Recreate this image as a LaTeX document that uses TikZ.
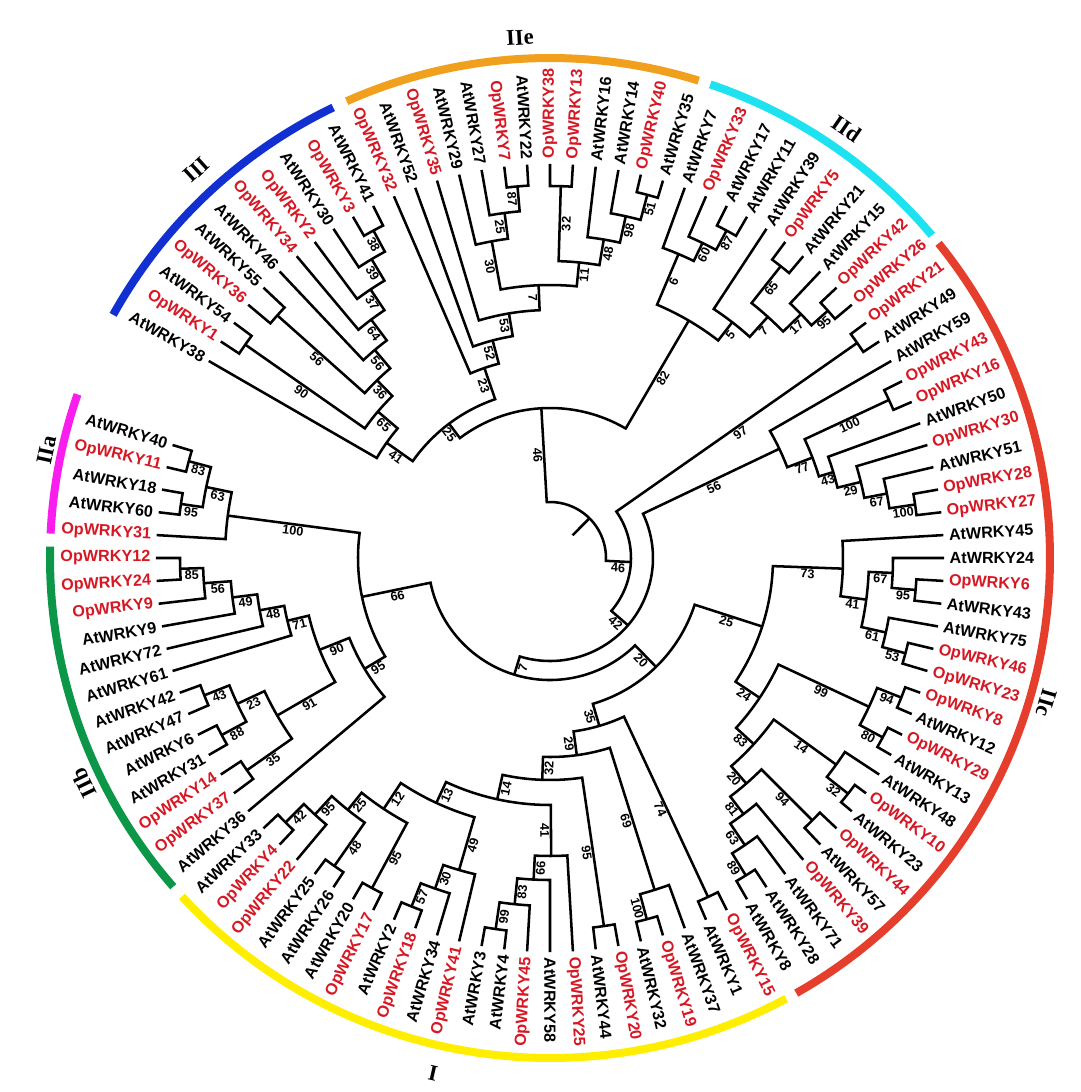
\documentclass[tikz,border=0pt]{standalone}
\usepackage{fontspec}
\setmainfont{Liberation Serif}
\setsansfont{Liberation Sans}
\usepackage{tikz}
\definecolor{opred}{RGB}{214,24,36}
\definecolor{cI}{RGB}{255,238,0}
\definecolor{cIIa}{RGB}{250,30,238}
\definecolor{cIIb}{RGB}{12,150,72}
\definecolor{cIIc}{RGB}{230,62,44}
\definecolor{cIId}{RGB}{30,226,240}
\definecolor{cIIe}{RGB}{240,160,28}
\definecolor{cIII}{RGB}{18,48,210}

\tikzset{
  branch/.style={line width=1.8pt},
  atlab/.style={font=\sffamily\bfseries\fontsize{11.5}{12}\selectfont, inner sep=1pt},
  oplab/.style={atlab, text=opred},
  boot/.style={font=\sffamily\bfseries\fontsize{9}{10}\selectfont, inner sep=1.2pt},
  ring/.style={line width=5.7pt},
  clab/.style={font=\rmfamily\bfseries\fontsize{16}{18}\selectfont}
}

\newcommand\setval[3]{\expandafter\xdef\csname wr#1:#2\endcsname{#3}}
\newcommand\getval[2]{\csname wr#1:#2\endcsname}

% leaf: name, slot, style
\newcommand\leaf[3]{%
  \pgfmathsetmacro\wla{-60+(#2)*10/3}%
  \setval{a}{#1}{\wla}\setval{r}{#1}{394}\setval{b}{#1}{}%
  \pgfmathparse{cos(\wla)>=0?1:0}%
  \ifdim\pgfmathresult pt>0.5pt
    \node[#3,anchor=west,rotate=\wla] (#1) at (\wla:398) {#1};%
  \else
    \pgfmathsetmacro\wlb{\wla+180}%
    \node[#3,anchor=east,rotate=\wlb] (#1) at (\wla:398) {#1};%
  \fi}

\newcommand\bootlab[2]{%
  \edef\wbt{\getval{b}{#1}}%
  \ifx\wbt\empty\else
    \edef\wba{\getval{a}{#1}}%
    \pgfmathsetmacro\wbr{(\getval{r}{#1}+#2)/2}%
    \pgfmathparse{cos(\wba)>=0?1:0}%
    \ifdim\pgfmathresult pt>0.5pt
      \node[boot,anchor=north,rotate=\wba] (bs#1) at (\wba:\wbr) {\wbt};%
    \else
      \pgfmathsetmacro\wbb{\wba+180}%
      \node[boot,anchor=north,rotate=\wbb] (bs#1) at (\wba:\wbr) {\wbt};%
    \fi
  \fi}

% clade: name, radius, child, child, bootstrap
\newcommand\clade[5]{%
  \edef\wca{\getval{a}{#3}}\edef\wcb{\getval{a}{#4}}%
  \edef\wra{\getval{r}{#3}}\edef\wrb{\getval{r}{#4}}%
  \draw[branch] (\wca:\wra) -- (\wca:#2) arc[start angle=\wca,end angle=\wcb,radius=#2] -- (\wcb:\wrb);%
  \bootlab{#3}{#2}\bootlab{#4}{#2}%
  \pgfmathsetmacro\wcm{(\wca+\wcb)/2}%
  \setval{a}{#1}{\wcm}\setval{r}{#1}{#2}\setval{b}{#1}{#5}%
  \coordinate (#1) at (\wcm:#2);}

\begin{document}
\begin{tikzpicture}[x=0.025cm,y=0.025cm]
\useasboundingbox (-550,-534) rectangle (530,558);

% IIc
\leaf{AtWRKY8}{0}{atlab}   \leaf{AtWRKY28}{1}{atlab}  \leaf{AtWRKY71}{2}{atlab}
\leaf{OpWRKY39}{3}{oplab}  \leaf{AtWRKY57}{4}{atlab}  \leaf{OpWRKY44}{5}{oplab}
\leaf{AtWRKY23}{6}{atlab}  \leaf{OpWRKY10}{7}{oplab}  \leaf{AtWRKY48}{8}{atlab}
\leaf{AtWRKY13}{9}{atlab}  \leaf{OpWRKY29}{10}{oplab} \leaf{AtWRKY12}{11}{atlab}
\leaf{OpWRKY8}{12}{oplab}  \leaf{OpWRKY23}{13}{oplab} \leaf{OpWRKY46}{14}{oplab}
\leaf{AtWRKY75}{15}{atlab} \leaf{AtWRKY43}{16}{atlab} \leaf{OpWRKY6}{17}{oplab}
\leaf{AtWRKY24}{18}{atlab} \leaf{AtWRKY45}{19}{atlab} \leaf{OpWRKY27}{20}{oplab}
\leaf{OpWRKY28}{21}{oplab} \leaf{AtWRKY51}{22}{atlab} \leaf{OpWRKY30}{23}{oplab}
\leaf{AtWRKY50}{24}{atlab} \leaf{OpWRKY16}{25}{oplab} \leaf{OpWRKY43}{26}{oplab}
\leaf{AtWRKY59}{27}{atlab} \leaf{AtWRKY49}{28}{atlab} \leaf{OpWRKY21}{29}{oplab}
% IId
\leaf{OpWRKY26}{30}{oplab} \leaf{OpWRKY42}{31}{oplab} \leaf{AtWRKY15}{32}{atlab}
\leaf{AtWRKY21}{33}{atlab} \leaf{OpWRKY5}{34}{oplab}  \leaf{AtWRKY39}{35}{atlab}
\leaf{AtWRKY11}{36}{atlab} \leaf{AtWRKY17}{37}{atlab} \leaf{OpWRKY33}{38}{oplab}
\leaf{AtWRKY7}{39}{atlab}
% IIe
\leaf{AtWRKY35}{40}{atlab} \leaf{OpWRKY40}{41}{oplab} \leaf{AtWRKY14}{42}{atlab}
\leaf{AtWRKY16}{43}{atlab} \leaf{OpWRKY13}{44}{oplab} \leaf{OpWRKY38}{45}{oplab}
\leaf{AtWRKY22}{46}{atlab} \leaf{OpWRKY7}{47}{oplab}  \leaf{AtWRKY27}{48}{atlab}
\leaf{AtWRKY29}{49}{atlab} \leaf{OpWRKY35}{50}{oplab} \leaf{AtWRKY52}{51}{atlab}
\leaf{OpWRKY32}{52}{oplab}
% III
\leaf{AtWRKY41}{53}{atlab} \leaf{OpWRKY3}{54}{oplab}  \leaf{AtWRKY30}{55}{atlab}
\leaf{OpWRKY2}{56}{oplab}  \leaf{OpWRKY34}{57}{oplab} \leaf{AtWRKY46}{58}{atlab}
\leaf{AtWRKY55}{59}{atlab} \leaf{OpWRKY36}{60}{oplab} \leaf{AtWRKY54}{61}{atlab}
\leaf{OpWRKY1}{62}{oplab}  \leaf{AtWRKY38}{63}{atlab}
% IIa
\leaf{AtWRKY40}{-41}{atlab} \leaf{OpWRKY11}{-40}{oplab} \leaf{AtWRKY18}{-39}{atlab}
\leaf{AtWRKY60}{-38}{atlab} \leaf{OpWRKY31}{-37}{oplab}
% IIb
\leaf{OpWRKY12}{-36}{oplab} \leaf{OpWRKY24}{-35}{oplab} \leaf{OpWRKY9}{-34}{oplab}
\leaf{AtWRKY9}{-33}{atlab}  \leaf{AtWRKY72}{-32}{atlab} \leaf{AtWRKY61}{-31}{atlab}
\leaf{AtWRKY42}{-30}{atlab} \leaf{AtWRKY47}{-29}{atlab} \leaf{AtWRKY6}{-28}{atlab}
\leaf{AtWRKY31}{-27}{atlab} \leaf{OpWRKY14}{-26}{oplab} \leaf{OpWRKY37}{-25}{oplab}
\leaf{AtWRKY36}{-24}{atlab}
% I
\leaf{AtWRKY33}{-23}{atlab} \leaf{OpWRKY4}{-22}{oplab}  \leaf{OpWRKY22}{-21}{oplab}
\leaf{AtWRKY25}{-20}{atlab} \leaf{AtWRKY26}{-19}{atlab} \leaf{AtWRKY20}{-18}{atlab}
\leaf{OpWRKY17}{-17}{oplab} \leaf{AtWRKY2}{-16}{atlab}  \leaf{OpWRKY18}{-15}{oplab}
\leaf{AtWRKY34}{-14}{atlab} \leaf{OpWRKY41}{-13}{oplab} \leaf{AtWRKY3}{-12}{atlab}
\leaf{AtWRKY4}{-11}{atlab}  \leaf{OpWRKY45}{-10}{oplab} \leaf{AtWRKY58}{-9}{atlab}
\leaf{OpWRKY25}{-8}{oplab}  \leaf{AtWRKY44}{-7}{atlab}  \leaf{OpWRKY20}{-6}{oplab}
\leaf{AtWRKY32}{-5}{atlab}  \leaf{OpWRKY19}{-4}{oplab}  \leaf{AtWRKY37}{-3}{atlab}
\leaf{AtWRKY1}{-2}{atlab}   \leaf{OpWRKY15}{-1}{oplab}

% IIc clades
\clade{c89}{373}{AtWRKY8}{AtWRKY28}{89}
\clade{c63}{347}{c89}{AtWRKY71}{63}
\clade{c81}{321}{c63}{OpWRKY39}{81}
\clade{c94b}{371}{AtWRKY57}{OpWRKY44}{94}
\clade{c20b}{299}{c81}{c94b}{20}
\clade{c32b}{380}{AtWRKY23}{OpWRKY10}{32}
\clade{c14b}{353}{c32b}{AtWRKY48}{14}
\clade{c83b}{276}{c20b}{c14b}{83}
\clade{c80}{378}{AtWRKY13}{OpWRKY29}{80}
\clade{c94}{378}{AtWRKY12}{OpWRKY8}{94}
\clade{c99b}{352}{c80}{c94}{99}
\clade{c24}{252}{c83b}{c99b}{24}
\clade{c53}{368}{OpWRKY23}{OpWRKY46}{53}
\clade{c61}{344}{c53}{AtWRKY75}{61}
\clade{c95f}{367}{AtWRKY43}{OpWRKY6}{95}
\clade{c67}{343}{c95f}{AtWRKY24}{67}
\clade{c41b}{319}{c61}{c67}{41}
\clade{c73}{293}{c41b}{AtWRKY45}{73}
\clade{c25}{223}{c24}{c73}{25}
\clade{c100c}{369}{OpWRKY27}{OpWRKY28}{100}
\clade{c67b}{343}{c100c}{AtWRKY51}{67}
\clade{c29b}{320}{c67b}{OpWRKY30}{29}
\clade{c43}{296}{c29b}{AtWRKY50}{43}
\clade{c100b}{374}{OpWRKY16}{OpWRKY43}{100}
\clade{cY}{281}{c43}{c100b}{77}
\clade{cX}{254}{cY}{AtWRKY59}{56}
\clade{c97}{375}{AtWRKY49}{OpWRKY21}{97}

% I clades
\clade{i74}{374}{OpWRKY15}{AtWRKY1}{74}
\clade{i100}{374}{AtWRKY32}{OpWRKY19}{100}
\clade{i69}{348}{i100}{AtWRKY37}{69}
\clade{i95b}{372}{AtWRKY44}{OpWRKY20}{95}
\clade{i99}{375}{AtWRKY3}{AtWRKY4}{99}
\clade{i83}{348}{i99}{OpWRKY45}{83}
\clade{i66}{322}{i83}{AtWRKY58}{66}
\clade{i41}{298}{i66}{OpWRKY25}{41}
\clade{i57}{375}{AtWRKY2}{OpWRKY18}{57}
\clade{i30}{350}{i57}{AtWRKY34}{30}
\clade{i49}{325}{i30}{OpWRKY41}{49}
\clade{i42}{374}{AtWRKY33}{OpWRKY4}{42}
\clade{i95d}{348}{i42}{OpWRKY22}{95}
\clade{i48}{376}{AtWRKY25}{AtWRKY26}{48}
\clade{i25}{323}{i95d}{i48}{25}
\clade{i95c}{375}{AtWRKY20}{OpWRKY17}{95}
\clade{i12}{301}{i25}{i95c}{12}
\clade{i13}{270}{i12}{i49}{13}
\clade{i14}{247}{i13}{i41}{14}
\clade{i32}{222}{i14}{i95b}{32}
\clade{i29}{199}{i32}{i69}{29}
\clade{i35}{175}{i29}{i74}{35}
\clade{n20}{152}{i35}{c25}{20}

% IIb and IIa clades
\clade{b85}{370}{OpWRKY12}{OpWRKY24}{85}
\clade{b56}{347}{b85}{OpWRKY9}{56}
\clade{b49}{320}{b56}{AtWRKY9}{49}
\clade{b48}{295}{b49}{AtWRKY72}{48}
\clade{b71}{270}{b48}{AtWRKY61}{71}
\clade{b43}{372}{AtWRKY42}{AtWRKY47}{43}
\clade{b88}{373}{AtWRKY6}{AtWRKY31}{88}
\clade{b23}{345}{b43}{b88}{23}
\clade{b35}{370}{OpWRKY14}{OpWRKY37}{35}
\clade{b91}{315}{b23}{b35}{91}
\clade{b90}{248}{b71}{b91}{90}
\clade{b95}{216}{b90}{AtWRKY36}{95}
\clade{a83}{374}{AtWRKY40}{OpWRKY11}{83}
\clade{a95}{373}{AtWRKY18}{AtWRKY60}{95}
\clade{a63}{351}{a83}{a95}{63}
\clade{a100}{325}{a63}{OpWRKY31}{100}
\clade{n66}{192}{a100}{b95}{66}
\clade{n7}{122}{n66}{n20}{7}
\clade{n42}{103}{n7}{cX}{42}
\clade{r1}{81}{n42}{c97}{46}

% IId, IIe, III clades
\clade{d95}{372}{OpWRKY26}{OpWRKY42}{95}
\clade{d17}{350}{d95}{AtWRKY15}{17}
\clade{d65}{372}{AtWRKY21}{OpWRKY5}{65}
\clade{d7}{325}{d17}{d65}{7}
\clade{d5}{298}{d7}{AtWRKY39}{5}
\clade{d87}{372}{AtWRKY11}{AtWRKY17}{87}
\clade{d60}{350}{d87}{OpWRKY33}{60}
\clade{d6}{330}{d60}{AtWRKY7}{6}
\clade{d82}{275}{d5}{d6}{82}
\clade{e51}{376}{AtWRKY35}{OpWRKY40}{51}
\clade{e98}{350}{e51}{AtWRKY14}{98}
\clade{e48}{323}{e98}{AtWRKY16}{48}
\clade{e32}{372}{OpWRKY13}{OpWRKY38}{32}
\clade{e11}{297}{e48}{e32}{11}
\clade{e87}{373}{AtWRKY22}{OpWRKY7}{87}
\clade{e25}{348}{e87}{AtWRKY27}{25}
\clade{e30}{322}{e25}{AtWRKY29}{30}
\clade{e7}{273}{e11}{e30}{7}
\clade{e53}{248}{e7}{OpWRKY35}{53}
\clade{e52}{225}{e53}{AtWRKY52}{52}
\clade{e23}{201}{e52}{OpWRKY32}{23}
\clade{t38}{372}{AtWRKY41}{OpWRKY3}{38}
\clade{t39}{348}{t38}{AtWRKY30}{39}
\clade{t37}{323}{t39}{OpWRKY2}{37}
\clade{t64}{298}{t37}{OpWRKY34}{64}
\clade{t56a}{272}{t64}{AtWRKY46}{56}
\clade{t56b}{365}{AtWRKY55}{OpWRKY36}{56}
\clade{t36}{248}{t56a}{t56b}{36}
\clade{t90}{372}{AtWRKY54}{OpWRKY1}{90}
\clade{t65}{226}{t36}{t90}{65}
\clade{t41}{200}{t65}{AtWRKY38}{41}
\clade{nL}{168}{e23}{t41}{25}
\clade{nU}{150}{d82}{nL}{46}
\clade{root}{56}{r1}{nU}{}
\coordinate (rootin) at (\getval{a}{root}:32);
\draw[branch] (root) -- (rootin);

% group rings
\draw[ring,cIIc] (-60.5:500) arc[start angle=-60.5,end angle=39,radius=500];
\draw[ring,cIId] (40.2:500) arc[start angle=40.2,end angle=71.3,radius=500];
\draw[ring,cIIe] (72.7:500) arc[start angle=72.7,end angle=114,radius=500];
\draw[ring,cIII] (115.7:500) arc[start angle=115.7,end angle=150.9,radius=500];
\draw[ring,cIIa] (160.9:500) arc[start angle=160.9,end angle=177.2,radius=500];
\draw[ring,cIIb] (178.7:500) arc[start angle=178.7,end angle=221.1,radius=500];
\draw[ring,cI] (222.6:500) arc[start angle=222.6,end angle=298.2,radius=500];

\node[clab,rotate=3.3] (gIIe) at (93.3:521) {IIe};
\node[clab,rotate=-34.6] (gIId) at (55.4:522) {IId};
\node[clab,rotate=-106.3] (gIIc) at (-16.3:517) {IIc};
\node[clab,rotate=42.3] (gIII) at (132.3:525) {III};
\node[clab,rotate=77.9] (gIIa) at (167.9:515) {IIa};
\node[clab,rotate=115.8] (gIIb) at (205.8:518) {IIb};
\node[clab,rotate=-12.8] (gI) at (257.2:528) {I};
\end{tikzpicture}
\end{document}
